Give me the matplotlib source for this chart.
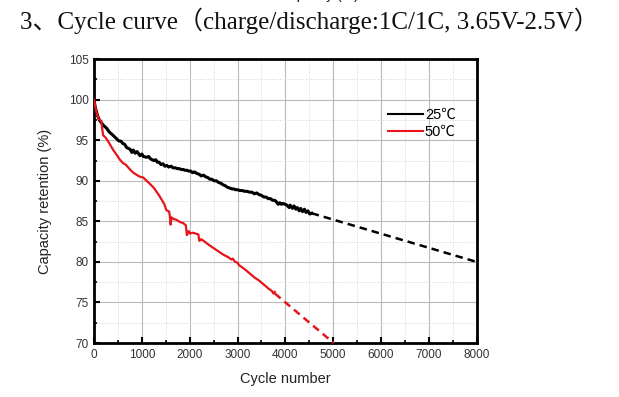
import matplotlib
matplotlib.use("Agg")
import matplotlib.pyplot as plt
from matplotlib.ticker import MultipleLocator

# measured data, 25 C
x25 = [0, 20, 50, 80, 120, 160, 200, 260, 320, 380, 450, 520, 560, 600, 640, 680, 750, 790,
       820, 860, 900, 960, 1000, 1030, 1100, 1140, 1180, 1250, 1290, 1320, 1360, 1400, 1440,
       1480, 1520, 1560, 1610, 1650, 1700, 1740, 1780, 1820, 1860, 1900, 1940, 1980, 2020,
       2060, 2100, 2150, 2200, 2240, 2290, 2330, 2380, 2420, 2460, 2510, 2560, 2600, 2650,
       2700, 2740, 2790, 2840, 2880, 2920, 2960, 3000, 3050, 3100, 3150, 3200, 3250, 3300,
       3350, 3400, 3450, 3500, 3550, 3600, 3640, 3690, 3730, 3770, 3800, 3850, 3880, 3920,
       3950, 4000, 4030, 4080, 4100, 4150, 4180, 4220, 4250, 4290, 4320, 4360, 4400, 4430,
       4470, 4510, 4550]
y25 = [100, 99.2, 98.5, 97.9, 97.4, 97.1, 96.8, 96.5, 96.0, 95.7, 95.3, 94.9, 94.9, 94.6,
       94.5, 94.1, 93.9, 93.5, 93.8, 93.4, 93.6, 93.1, 93.3, 93.0, 92.9, 93.0, 92.7, 92.5,
       92.6, 92.3, 92.3, 92.0, 92.1, 91.8, 91.9, 91.7, 91.8, 91.6, 91.6, 91.5, 91.5, 91.4,
       91.4, 91.3, 91.3, 91.2, 91.2, 91.0, 91.1, 90.9, 90.8, 90.6, 90.7, 90.5, 90.4, 90.2,
       90.2, 90.0, 90.0, 89.8, 89.7, 89.5, 89.4, 89.2, 89.1, 89.0, 89.0, 88.9, 88.9, 88.8,
       88.8, 88.7, 88.7, 88.6, 88.6, 88.4, 88.5, 88.3, 88.2, 88.0, 88.0, 87.8, 87.8, 87.6,
       87.6, 87.5, 87.1, 87.3, 87.1, 87.2, 87.1, 87.0, 86.7, 87.0, 86.6, 86.9, 86.5, 86.7,
       86.3, 86.6, 86.2, 86.5, 86.1, 86.3, 85.9, 86.0]

# measured data, 50 C
x50 = [0, 30, 60, 100, 150, 170, 190, 230, 280, 340, 400, 460, 540, 600, 660, 750, 820, 900,
       960, 1030, 1100, 1170, 1240, 1300, 1360, 1420, 1470, 1510, 1540, 1570, 1590, 1600,
       1620, 1660, 1720, 1800, 1860, 1920, 1940, 1960, 1980, 2000, 2060, 2120, 2180, 2200,
       2220, 2240, 2290, 2400, 2500, 2600, 2700, 2800, 2870, 2900, 2950, 3000, 3030, 3080,
       3150, 3250, 3350, 3450, 3550, 3650, 3720, 3750, 3780]
y50 = [100, 99.0, 98.2, 97.6, 97.4, 96.4, 95.6, 95.4, 95.0, 94.4, 93.8, 93.3, 92.6, 92.2,
       92.0, 91.4, 91.0, 90.7, 90.5, 90.4, 90.0, 89.6, 89.2, 88.7, 88.2, 87.6, 87.1, 86.4,
       86.3, 86.2, 85.4, 84.6, 85.5, 85.3, 85.2, 84.9, 84.8, 84.5, 83.3, 83.6, 83.8, 83.5,
       83.6, 83.5, 83.4, 82.6, 82.7, 82.8, 82.6, 82.1, 81.7, 81.3, 80.9, 80.6, 80.3, 80.4,
       80.0, 79.9, 79.6, 79.4, 79.1, 78.6, 78.1, 77.7, 77.2, 76.7, 76.4, 76.1, 76.3]

# extrapolated parts (dashed)
x25_ext = [4550, 8000]
y25_ext = [86.0, 80.0]
x50_ext = [3780, 5010]
y50_ext = [76.1, 70.0]

labels = ["25\u2103", "50\u2103"]
colors = ["black", "#e8141b"]

fig = plt.figure(figsize=(6.19, 3.97), dpi=100)
ax = fig.add_axes([0.152, 0.136, 0.618, 0.715])

ax.plot(x25, y25, color=colors[0], lw=2.2, label=labels[0], zorder=3)
ax.plot(x50, y50, color=colors[1], lw=1.6, label=labels[1], zorder=3)
ax.plot(x25_ext, y25_ext, color=colors[0], lw=1.8, dashes=(3, 2), zorder=3)
ax.plot(x50_ext, y50_ext, color=colors[1], lw=1.8, dashes=(3, 2), zorder=3, clip_on=False)

ax.set_xlim(0, 8000)
ax.set_ylim(70, 105)
ax.xaxis.set_major_locator(MultipleLocator(1000))
ax.xaxis.set_minor_locator(MultipleLocator(500))
ax.yaxis.set_major_locator(MultipleLocator(5))
ax.yaxis.set_minor_locator(MultipleLocator(2.5))

# grid
ax.grid(which="major", color="#bbbbbb", lw=0.8, ls="-", zorder=0)
ax.grid(which="minor", color="#d4d4d4", lw=0.7, ls=":", zorder=0)

# ticks and frame
ax.tick_params(which="major", direction="in", length=4, width=1.5, labelsize=8.5,
               colors="black", labelcolor="#333333", pad=4)
ax.tick_params(which="minor", direction="in", length=2.5, width=1.2)
for s in ax.spines.values():
    s.set_linewidth(2.0)
for lab in ax.get_xticklabels() + ax.get_yticklabels():
    lab.set_family("Liberation Sans")

ax.set_xlabel("Cycle number", family="Liberation Sans", fontsize=10.5, color="#222222", labelpad=8)
ax.set_ylabel("Capacity retention (%)", family="Liberation Sans", fontsize=10.5,
              color="#222222", labelpad=12)

leg = ax.legend(loc="upper left", bbox_to_anchor=(0.735, 0.875), frameon=False,
                handlelength=2.4, handletextpad=0.1, labelspacing=0.2,
                prop={"family": ["Liberation Sans", "Noto Sans CJK SC"], "size": 10.5})
for line in leg.get_lines():
    line.set_linewidth(1.5)

# document text around the chart
fig.text(0.032, 0.928, "3\u3001Cycle curve\uff08charge/discharge:1C/1C, 3.65V-2.5V\uff09",
         family=["Liberation Serif", "Noto Sans CJK SC"], fontsize=18, color="#111111",
         va="baseline")
fig.text(0.515, 1.003, "Capacity (%)", family="Liberation Sans", fontsize=10,
         color="#111111", ha="center", va="baseline")

plt.savefig("out.png", dpi=100)
